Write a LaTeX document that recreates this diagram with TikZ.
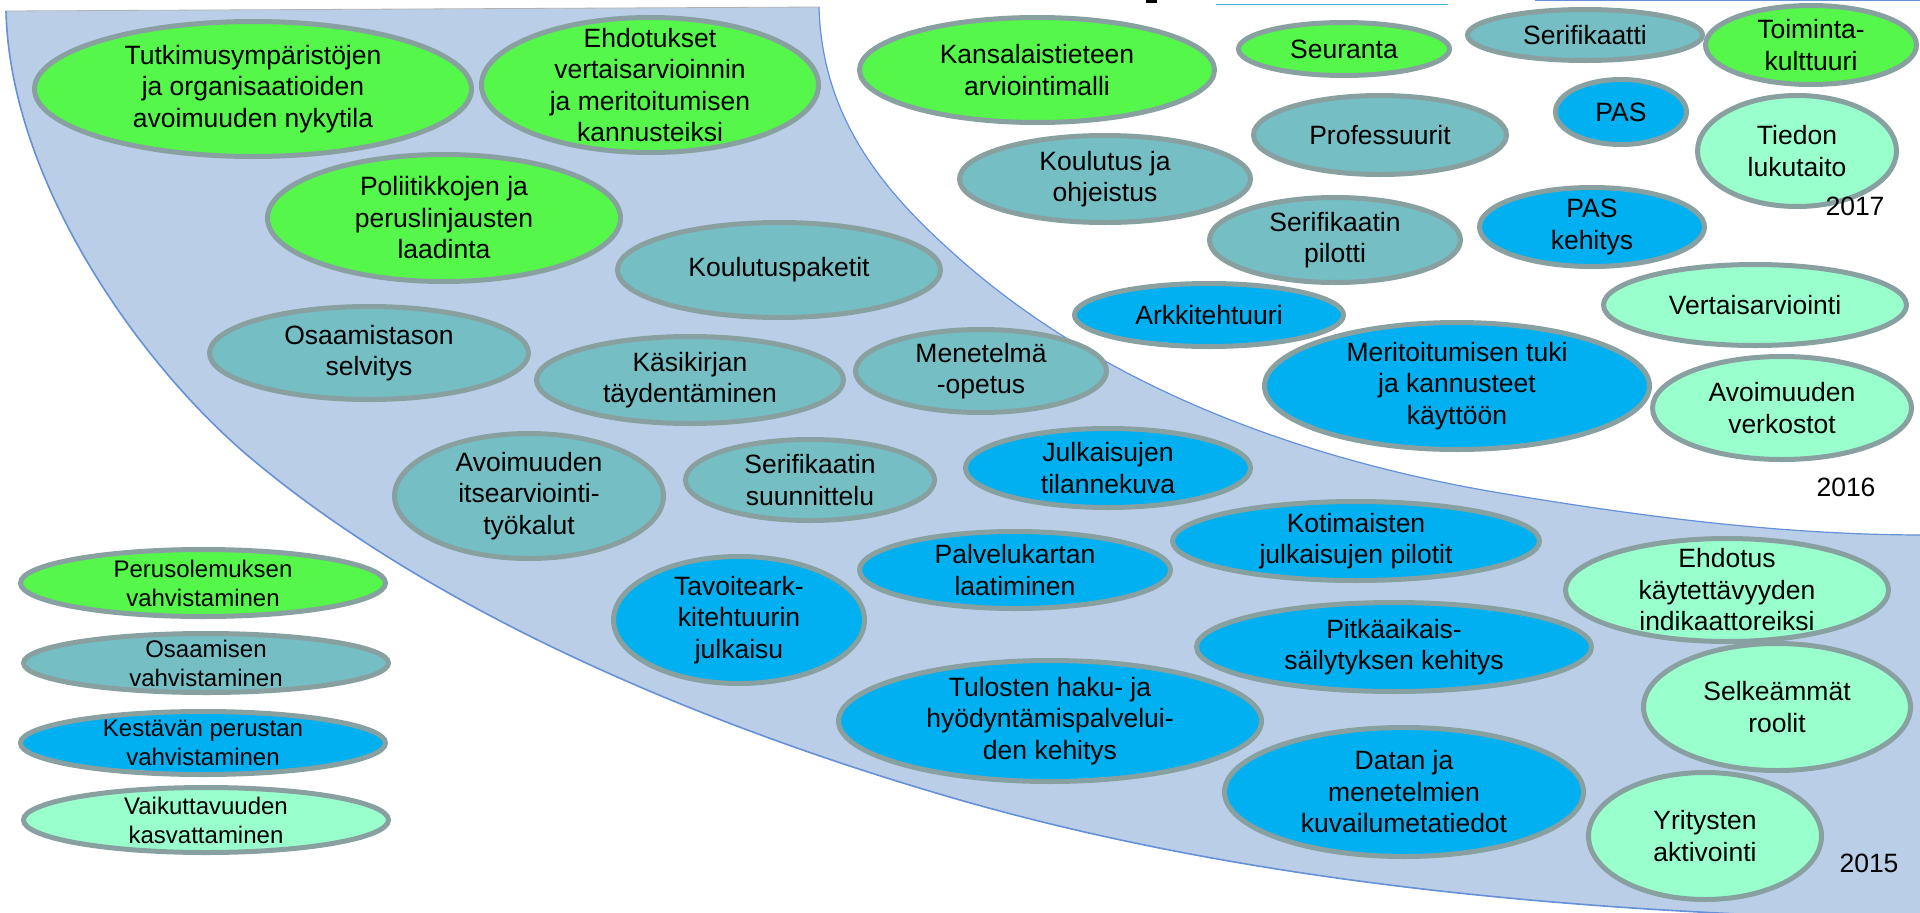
\documentclass[tikz,border=0pt]{standalone}
\usepackage{fontspec}
\setmainfont{Liberation Sans}
\usetikzlibrary{shapes.geometric}
\definecolor{bandfill}{RGB}{187,206,232}
\definecolor{bandline}{RGB}{100,145,215}
\definecolor{cGreen}{RGB}{84,247,74}
\definecolor{cTeal}{RGB}{116,190,196}
\definecolor{cBlue}{RGB}{0,176,240}
\definecolor{cMint}{RGB}{153,255,204}
\definecolor{rim}{RGB}{137,160,160}
\tikzset{
  bubble/.style={ellipse, draw=rim, line width=5pt, inner sep=0pt, outer sep=0pt},
  btext/.style={align=center, inner sep=0pt, font=\fontsize{26.5}{31.5}\selectfont},
  ltext/.style={align=center, inner sep=0pt, font=\fontsize{24}{29}\selectfont},
  yeartext/.style={inner sep=0pt, font=\fontsize{26.5}{31.5}\selectfont},
}
\newcommand\bub[8]{%
  \node[bubble, fill=#6, minimum width=#4pt, minimum height=#5pt] (#1) at (#2,#3) {};
  \node[#7] (#1t) at (#1.center) {#8};
}
\begin{document}
\begin{tikzpicture}[x=1pt,y=-1pt]
\useasboundingbox (0,0) rectangle (1920,913);
\clip (0,0) rectangle (1920,913);
\fill[white] (0,0) rectangle (1920,913);
% band (outer and inner arcs)
\coordinate (o0) at (6,11);
\coordinate (o1) at (253,460);
\coordinate (o2) at (960,800);
\coordinate (o3) at (1925,920);
\coordinate (i3) at (1925,535);
\coordinate (i2) at (1500,493);
\coordinate (i1) at (953,253);
\coordinate (i0) at (819,7);
\fill[bandfill] (o0) .. controls (10,180) and (138,364) .. (o1)
  .. controls (445,620) and (720,731) .. (o2)
  .. controls (1268,888) and (1605,914) .. (o3)
  -- (i3) .. controls (1780,535) and (1638,516) .. (i2)
  .. controls (1303,460) and (1101,387) .. (i1)
  .. controls (886,193) and (822,120) .. (i0) -- cycle;
\draw[bandline, line width=1.6pt] (o0) .. controls (10,180) and (138,364) .. (o1)
  .. controls (445,620) and (720,731) .. (o2)
  .. controls (1268,888) and (1605,914) .. (o3);
\draw[bandline, line width=1.2pt] (i3) .. controls (1780,535) and (1638,516) .. (i2)
  .. controls (1303,460) and (1101,387) .. (i1)
  .. controls (886,193) and (822,120) .. (i0);
\draw[gray!60, line width=0.8pt] (o0) -- (i0);
% top fragments
\fill[black] (1146,0) rectangle (1157,3);
\draw[cyan!70!gray, line width=1pt] (1216,4) -- (1448,4);
\draw[bandline, line width=1.2pt] (1535,0.6) -- (1920,0.6);
% band bubbles
\bub{tutk}{253}{89}{437}{135}{cGreen}{btext}{Tutkimusympäristöjen\\ja organisaatioiden\\avoimuuden nykytila}
\bub{ehd}{650}{85}{337}{135}{cGreen}{btext}{Ehdotukset\\vertaisarvioinnin\\ja meritoitumisen\\kannusteiksi}
\bub{pol}{444}{218}{353}{127}{cGreen}{btext}{Poliitikkojen ja\\peruslinjausten\\laadinta}
\bub{kpak}{779}{270}{323}{95}{cTeal}{btext}{Koulutuspaketit}
\bub{osa}{369}{353}{319}{93}{cTeal}{btext}{Osaamistason\\selvitys}
\bub{kas}{690}{380}{307}{87}{cTeal}{btext}{Käsikirjan\\täydentäminen}
\bub{men}{981}{371}{251}{83}{cTeal}{btext}{Menetelmä\\-opetus}
\bub{itse}{529}{496}{269}{125}{cTeal}{btext}{Avoimuuden\\itsearviointi-\\työkalut}
\bub{sers}{810}{480}{249}{81}{cTeal}{btext}{Serifikaatin\\suunnittelu}
\bub{julk}{1108}{468}{285}{79}{cBlue}{btext}{Julkaisujen\\tilannekuva}
\bub{tav}{739}{620}{251}{127}{cBlue}{btext}{Tavoiteark-\\kitehtuurin\\julkaisu}
\bub{palv}{1015}{570}{311}{77}{cBlue}{btext}{Palvelukartan\\laatiminen}
\bub{kot}{1356}{541}{367}{79}{cBlue}{btext}{Kotimaisten\\julkaisujen pilotit}
\bub{pitk}{1394}{647}{395}{89}{cBlue}{btext}{Pitkäaikais-\\säilytyksen kehitys}
\bub{tul}{1050}{721}{423}{121}{cBlue}{btext}{Tulosten haku- ja\\hyödyntämispalvelui-\\den kehitys}
\bub{dat}{1404}{792}{359}{129}{cBlue}{btext}{Datan ja\\menetelmien\\kuvailumetatiedot}
\bub{ehd2}{1727}{590}{323}{103}{cMint}{btext}{Ehdotus\\käytettävyyden\\indikaattoreiksi}
\bub{selk}{1777}{707}{267}{127}{cMint}{btext}{Selkeämmät\\roolit}
\bub{yrit}{1705}{836}{233}{127}{cMint}{btext}{Yritysten\\aktivointi}
% white region bubbles
\bub{kans}{1037}{70}{355}{105}{cGreen}{btext}{Kansalaistieteen\\arviointimalli}
\bub{seur}{1344}{49}{211}{53}{cGreen}{btext}{Seuranta}
\bub{serk}{1585}{35}{235}{51}{cTeal}{btext}{Serifikaatti}
\bub{toim}{1811}{45}{211}{79}{cGreen}{btext}{Toiminta-\\kulttuuri}
\bub{pas}{1621}{112}{131}{65}{cBlue}{btext}{PAS}
\bub{prof}{1380}{135}{253}{79}{cTeal}{btext}{Professuurit}
\bub{kou}{1105}{179}{291}{87}{cTeal}{btext}{Koulutus ja\\ohjeistus}
\bub{tied}{1797}{151}{199}{111}{cMint}{btext}{Tiedon\\lukutaito}
\bub{serp}{1335}{240}{251}{85}{cTeal}{btext}{Serifikaatin\\pilotti}
\bub{pask}{1592}{227}{225}{79}{cBlue}{btext}{PAS\\kehitys}
\bub{ark}{1209}{315}{269}{63}{cBlue}{btext}{Arkkitehtuuri}
\bub{ver}{1755}{305}{303}{81}{cMint}{btext}{Vertaisarviointi}
\bub{mer}{1457}{386}{385}{127}{cBlue}{btext}{Meritoitumisen tuki\\ja kannusteet\\käyttöön}
\bub{avv}{1782}{408}{259}{103}{cMint}{btext}{Avoimuuden\\verkostot}
% legend
\bub{lg1}{203}{583}{365}{67}{cGreen}{ltext}{Perusolemuksen\\vahvistaminen}
\bub{lg2}{206}{663}{365}{59}{cTeal}{ltext}{Osaamisen\\vahvistaminen}
\bub{lg3}{203}{743}{365}{63}{cBlue}{ltext}{Kestävän perustan\\vahvistaminen}
\bub{lg4}{206}{820}{365}{65}{cMint}{ltext}{Vaikuttavuuden\\kasvattaminen}
% years
\node[yeartext] (y2017) at (1855,206) {2017};
\node[yeartext] (y2016) at (1846,487) {2016};
\node[yeartext] (y2015) at (1869,863) {2015};
\end{tikzpicture}
\end{document}
